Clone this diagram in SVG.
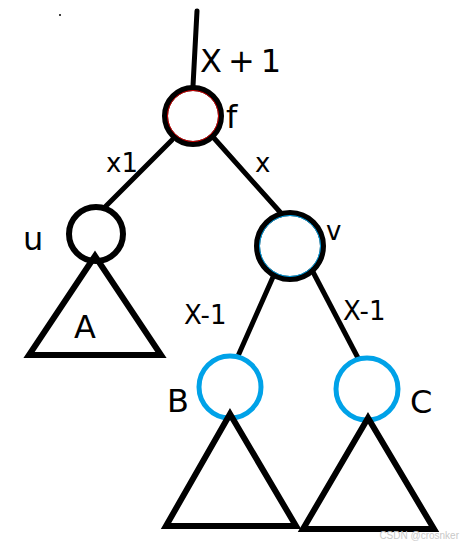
<svg xmlns="http://www.w3.org/2000/svg" width="464" height="547" viewBox="0 0 464 547">
<style>
.e{stroke:#000;stroke-width:5;fill:none;stroke-linecap:round}
.tri{stroke:#000;stroke-width:6;fill:none;stroke-linejoin:miter}
.blk{fill:#fff;stroke:#000;stroke-width:6}
.blu{fill:#fff;stroke:#00a2e8;stroke-width:5}
.t{font-family:"DejaVu Sans",sans-serif;font-size:32px;fill:#000}
.s{font-family:"DejaVu Sans",sans-serif;font-size:26px;fill:#000}
.w{font-family:"Liberation Sans",sans-serif;font-size:10px;fill:#c8c8c8}
</style>
<rect width="464" height="547" fill="#fff"/>
<circle cx="60" cy="15" r="1" fill="#000"/>
<g id="connectors">
<line class="e" x1="197" y1="11" x2="193" y2="86"/>
<line class="e" x1="172" y1="140" x2="103" y2="209"/>
<line class="e" x1="213" y1="137" x2="280" y2="212"/>
<line class="e" x1="273" y1="277" x2="238" y2="356"/>
<line class="e" x1="313" y1="272" x2="358" y2="358"/>
</g>
<g id="edge-labels">
<text class="t" x="200" y="72" letter-spacing="6">X+1</text>
<text class="s" x="106" y="172">x1</text>
<text class="s" x="255" y="172">x</text>
<text class="s" x="184" y="324">X-1</text>
<text class="s" x="343" y="320">X-1</text>
</g>
<g id="node-f">
<circle class="blk" cx="193" cy="116" r="28"/>
<circle cx="193" cy="116" r="25.5" fill="none" stroke="#d00000" stroke-width="1"/>
<text class="t" x="226" y="128">f</text>
</g>
<g id="node-u">
<circle class="blk" cx="96" cy="234" r="27"/>
<text class="t" x="23" y="250">u</text>
</g>
<g id="subtree-A">
<polygon class="tri" points="95,256 29,355 161,355"/>
<text class="t" x="74" y="338">A</text>
</g>
<g id="node-v">
<circle class="blk" cx="290" cy="246" r="33"/>
<circle cx="290" cy="246" r="30.5" fill="none" stroke="#00a2e8" stroke-width="1"/>
<text class="s" x="326" y="240">v</text>
</g>
<g id="node-B">
<circle class="blu" cx="230" cy="387" r="31"/>
<text class="t" x="167" y="412">B</text>
</g>
<g id="subtree-B">
<polygon class="tri" points="230,414 166,526 296,526"/>
</g>
<g id="node-C">
<circle class="blu" cx="367" cy="389" r="31"/>
<text class="t" x="410" y="413">C</text>
</g>
<g id="subtree-C">
<polygon class="tri" points="368,418 303,529 434,529"/>
</g>
<text class="w" x="459" y="539" text-anchor="end">CSDN @crosnker</text>
</svg>
